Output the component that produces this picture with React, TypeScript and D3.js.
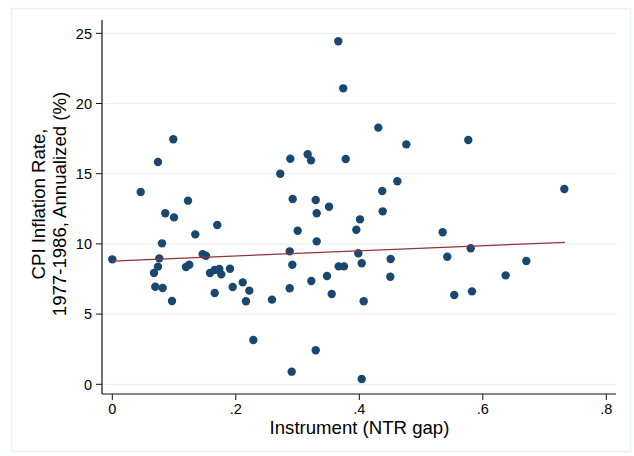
import React from 'react';
import * as d3 from 'd3';

// instrument (NTR gap) per observation
const ntrGap = [
  0.0988, 0.074, 0.272, 0.046, 0.1226, 0.0858, 0.0999, 0.170, 0.1344, 0.0805,
  0.0, 0.1464, 0.1517, 0.0761, 0.074, 0.0675, 0.1193, 0.1247, 0.1582, 0.1658,
  0.1733, 0.1765, 0.1906, 0.0696, 0.0816, 0.0967, 0.1658, 0.195, 0.2112, 0.2219,
  0.2165, 0.2586, 0.2284, 0.366, 0.374, 0.4308, 0.4761, 0.2883, 0.3164, 0.3218,
  0.378, 0.4616, 0.4372, 0.2921, 0.3294, 0.351, 0.331, 0.4379, 0.4011, 0.3952,
  0.3002, 0.331, 0.535, 0.2873, 0.2915, 0.3984, 0.4039, 0.4508, 0.5425, 0.3666,
  0.3752, 0.3477, 0.3223, 0.4502, 0.2873, 0.3553, 0.4071, 0.3294, 0.2905, 0.4039,
  0.5765, 0.732, 0.5804, 0.637, 0.6705, 0.5538, 0.5825,
];

// CPI inflation 1977-1986, annualized (%)
const inflation = [
  17.45, 15.83, 15.0, 13.7, 13.08, 12.18, 11.89, 11.35, 10.68, 10.04,
  8.9, 9.26, 9.16, 8.97, 8.38, 7.93, 8.35, 8.52, 7.93, 8.14,
  8.21, 7.83, 8.23, 6.95, 6.86, 5.93, 6.5, 6.93, 7.26, 6.67,
  5.91, 6.03, 3.16, 24.43, 21.08, 18.28, 17.09, 16.07, 16.38, 15.95,
  16.05, 14.46, 13.77, 13.2, 13.13, 12.65, 12.18, 12.32, 11.75, 11.01,
  10.94, 10.18, 10.83, 9.47, 8.52, 9.33, 8.62, 8.92, 9.09, 8.4,
  8.4, 7.71, 7.36, 7.66, 6.84, 6.43, 5.91, 2.42, 0.9, 0.38,
  17.4, 13.91, 9.69, 7.76, 8.78, 6.36, 6.62,
];

// fitted line endpoints (x, yhat)
const fitX = [0, 0.733];
const fitY = [8.78, 10.11];

const xTicks = [0, 0.2, 0.4, 0.6, 0.8];
const yTicks = [0, 5, 10, 15, 20, 25];

const W = 634;
const H = 456;
const font = '"Liberation Sans", Arial, sans-serif';

export default function App() {
  const x = d3.scaleLinear().domain([0, 0.8]).range([112.3, 606.3]);
  const y = d3.scaleLinear().domain([0, 25]).range([384.3, 33.3]);
  const left = 102;
  const right = 616;
  const bottom = 394;

  const points = ntrGap.map((v, i) => ({ x: v, y: inflation[i] }));
  const line = d3.line<number>()
    .x((d) => x(d))
    .y((_, i) => y(fitY[i]));

  const fmt = (v: number) => (v === 0 ? '0' : d3.format('.1f')(v).replace(/^0/, ''));

  return (
    <svg width={W} height={H} style={{ position: 'absolute', left: 0, top: 0, background: '#fff' }} fontFamily={font}>
      <rect x={0} y={0} width={W} height={H} fill="#fff" />
      <rect x={11.5} y={8.5} width={619} height={443} fill="none" stroke="#eaf2f3" strokeWidth={1.5} />

      {yTicks.map((t) => (
        <g key={t}>
          <line x1={left} x2={right} y1={y(t)} y2={y(t)} stroke="#eaf2f3" strokeWidth={1.2} />
          <line x1={left - 6} x2={left} y1={y(t)} y2={y(t)} stroke="#111" strokeWidth={1} />
          <text x={left - 10} y={y(t)} dy="0.36em" textAnchor="end" fontSize={14.5} fill="#000">{t}</text>
        </g>
      ))}

      {xTicks.map((t) => (
        <g key={t}>
          <line x1={x(t)} x2={x(t)} y1={bottom} y2={bottom + 6} stroke="#111" strokeWidth={1} />
          <text x={x(t)} y={bottom + 20} textAnchor="middle" fontSize={14.5} fill="#000">{fmt(t)}</text>
        </g>
      ))}

      <line x1={left} x2={left} y1={20} y2={bottom} stroke="#111" strokeWidth={1.2} />
      <line x1={left} x2={right} y1={bottom} y2={bottom} stroke="#111" strokeWidth={1.2} />

      {points.map((p, i) => (
        <circle key={i} cx={x(p.x)} cy={y(p.y)} r={4.2} fill="#1a476f" />
      ))}

      <path d={line(fitX) || ''} fill="none" stroke="#90353b" strokeWidth={1.3} />

      <text x={359.5} y={434} textAnchor="middle" fontSize={18.6} fill="#000">Instrument (NTR gap)</text>
      <g transform="translate(0,204) rotate(-90)">
        <text x={0} y={45} textAnchor="middle" fontSize={18.6} fill="#000">CPI Inflation Rate,</text>
        <text x={0} y={66} textAnchor="middle" fontSize={18.6} fill="#000">1977-1986, Annualized (%)</text>
      </g>
    </svg>
  );
}
